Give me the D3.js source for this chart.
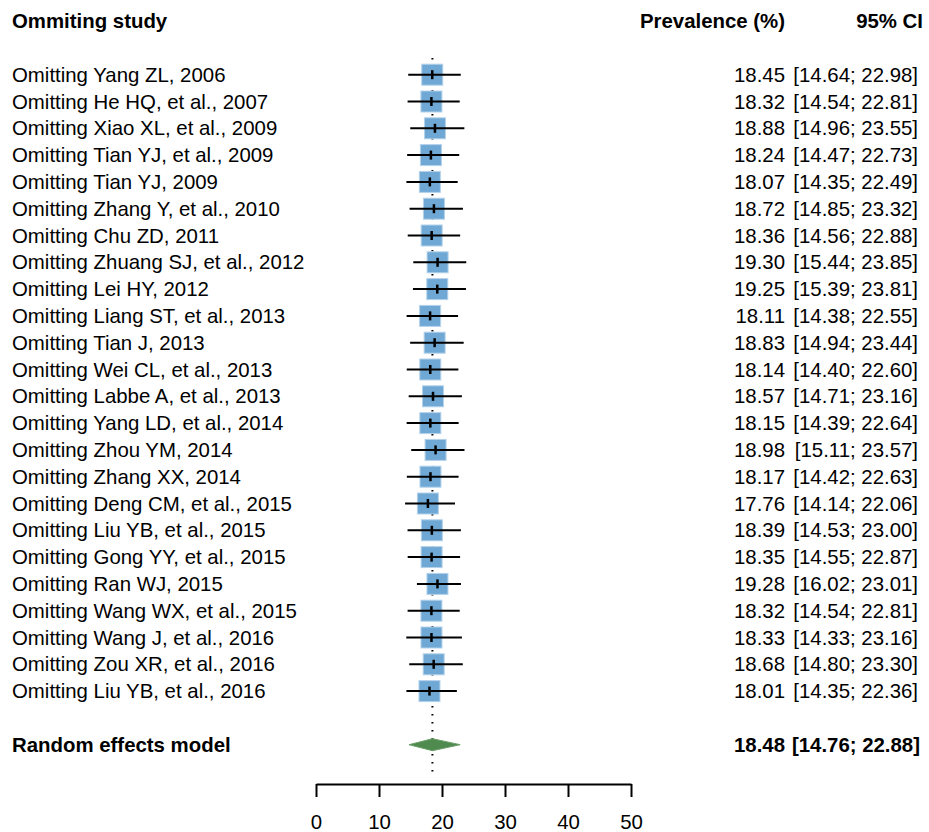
<!DOCTYPE html>
<html>
<head>
<meta charset="utf-8">
<script src="https://cdn.jsdelivr.net/npm/d3@7"></script>
<style>
  body { margin: 0; background: #fff; }
  text { font-family: "Liberation Sans", Arial, sans-serif; font-size: 20.4px; fill: #000; }
  .bold { font-weight: bold; }
</style>
</head>
<body>
<div id="forest"></div>
<script>
// omitted study labels, one row each
const studies = [
  "Omitting Yang ZL, 2006", "Omitting He HQ, et al., 2007", "Omitting Xiao XL, et al., 2009",
  "Omitting Tian YJ, et al., 2009", "Omitting Tian YJ, 2009", "Omitting Zhang Y, et al., 2010",
  "Omitting Chu ZD, 2011", "Omitting Zhuang SJ, et al., 2012", "Omitting Lei HY, 2012",
  "Omitting Liang ST, et al., 2013", "Omitting Tian J, 2013", "Omitting Wei CL, et al., 2013",
  "Omitting Labbe A, et al., 2013", "Omitting Yang LD, et al., 2014", "Omitting Zhou YM, 2014",
  "Omitting Zhang XX, 2014", "Omitting Deng CM, et al., 2015", "Omitting Liu YB, et al., 2015",
  "Omitting Gong YY, et al., 2015", "Omitting Ran WJ, 2015", "Omitting Wang WX, et al., 2015",
  "Omitting Wang J, et al., 2016", "Omitting Zou XR, et al., 2016", "Omitting Liu YB, et al., 2016"
];
const prevalence = [18.45, 18.32, 18.88, 18.24, 18.07, 18.72, 18.36, 19.30, 19.25, 18.11, 18.83, 18.14,
  18.57, 18.15, 18.98, 18.17, 17.76, 18.39, 18.35, 19.28, 18.32, 18.33, 18.68, 18.01];
const ciLower = [14.64, 14.54, 14.96, 14.47, 14.35, 14.85, 14.56, 15.44, 15.39, 14.38, 14.94, 14.40,
  14.71, 14.39, 15.11, 14.42, 14.14, 14.53, 14.55, 16.02, 14.54, 14.33, 14.80, 14.35];
const ciUpper = [22.98, 22.81, 23.55, 22.73, 22.49, 23.32, 22.88, 23.85, 23.81, 22.55, 23.44, 22.60,
  23.16, 22.64, 23.57, 22.63, 22.06, 23.00, 22.87, 23.01, 22.81, 23.16, 23.30, 22.36];

// pooled estimate
const pooled = {label: "Random effects model", est: 18.48, lo: 14.76, hi: 22.88};

const xTicks = [0, 10, 20, 30, 40, 50];

const width = 929, height = 832;
const rowStep = 26.8, firstRow = 74.7;
const boxSize = 21;

const svg = d3.select("#forest").append("svg")
  .attr("width", width)
  .attr("height", height);

const xScale = d3.scaleLinear().domain([0, 50]).range([316, 631]);
const yRow = i => firstRow + i * rowStep;
const yPooled = yRow(studies.length + 1);

// headers
svg.append("text").attr("class", "bold").attr("x", 12).attr("y", 28).text("Ommiting study");
svg.append("text").attr("class", "bold").attr("x", 785).attr("y", 28)
  .attr("text-anchor", "end").text("Prevalence (%)");
svg.append("text").attr("class", "bold").attr("x", 923).attr("y", 28)
  .attr("text-anchor", "end").text("95% CI");

// dotted reference line at pooled estimate
svg.append("line")
  .attr("x1", xScale(pooled.est)).attr("x2", xScale(pooled.est))
  .attr("y1", 58).attr("y2", 778)
  .attr("stroke", "#000")
  .attr("stroke-width", 2)
  .attr("stroke-dasharray", "1.5,6.5");

const rows = studies.map((s, i) => ({label: s, est: prevalence[i], lo: ciLower[i], hi: ciUpper[i], y: yRow(i)}));

const g = svg.selectAll(".row").data(rows).enter().append("g").attr("class", "row");

g.append("rect")
  .attr("x", d => xScale(d.est) - boxSize / 2)
  .attr("y", d => d.y - boxSize / 2)
  .attr("width", boxSize)
  .attr("height", boxSize)
  .attr("fill", "#6fa8d5")
  .attr("stroke", "#b4d2ea")
  .attr("stroke-width", 1);

g.append("line")
  .attr("x1", d => xScale(d.lo)).attr("x2", d => xScale(d.hi))
  .attr("y1", d => d.y).attr("y2", d => d.y)
  .attr("stroke", "#000").attr("stroke-width", 2);

g.append("line")
  .attr("x1", d => xScale(d.est)).attr("x2", d => xScale(d.est))
  .attr("y1", d => d.y - 4.5).attr("y2", d => d.y + 4.5)
  .attr("stroke", "#000").attr("stroke-width", 2.5);

g.append("text").attr("x", 12).attr("y", d => d.y + 7).text(d => d.label);
g.append("text").attr("x", 785).attr("y", d => d.y + 7).attr("text-anchor", "end")
  .text(d => d.est.toFixed(2));
g.append("text").attr("x", 918).attr("y", d => d.y + 7).attr("text-anchor", "end")
  .text(d => `[${d.lo.toFixed(2)}; ${d.hi.toFixed(2)}]`);

// pooled diamond
const dH = 6;
svg.append("path")
  .attr("d", `M${xScale(pooled.lo)},${yPooled} L${xScale(pooled.est)},${yPooled - dH} L${xScale(pooled.hi)},${yPooled} L${xScale(pooled.est)},${yPooled + dH} Z`)
  .attr("fill", "#4f8b4f")
  .attr("stroke", "#6a9e68")
  .attr("stroke-width", 1);

svg.append("text").attr("class", "bold").attr("x", 12).attr("y", yPooled + 7).text(pooled.label);
svg.append("text").attr("class", "bold").attr("x", 785).attr("y", yPooled + 7)
  .attr("text-anchor", "end").text(pooled.est.toFixed(2));
svg.append("text").attr("class", "bold").attr("x", 920).attr("y", yPooled + 7)
  .attr("text-anchor", "end").text(`[${pooled.lo.toFixed(2)}; ${pooled.hi.toFixed(2)}]`);

// x axis
const axis = svg.append("g")
  .attr("transform", "translate(0,784)")
  .call(d3.axisBottom(xScale).tickValues(xTicks).tickSize(13).tickSizeOuter(0).tickPadding(18));
axis.select(".domain").attr("stroke", "#000").attr("stroke-width", 2);
axis.selectAll(".tick line").attr("stroke", "#000").attr("stroke-width", 2);
axis.selectAll(".tick text").attr("font-size", 20.4)
  .attr("font-family", "Liberation Sans, Arial, sans-serif").attr("fill", "#000");
</script>
</body>
</html>
